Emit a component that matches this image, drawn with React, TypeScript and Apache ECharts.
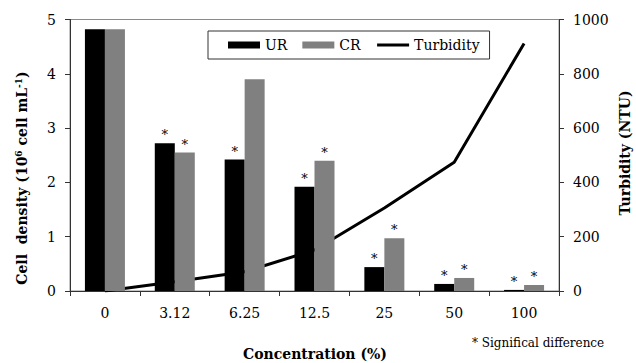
import React, { useEffect, useRef } from "react";
import * as echarts from "echarts";

const categories = ["0", "3.12", "6.25", "12.5", "25", "50", "100"];
const urValues = [4.82, 2.72, 2.42, 1.92, 0.44, 0.13, 0.02];
const crValues = [4.82, 2.55, 3.9, 2.4, 0.97, 0.24, 0.11];
const turbidity = [0, 34, 71, 151, 306, 474, 912];
const urSignificant = [false, true, true, true, true, true, true];
const crSignificant = [false, true, false, true, true, true, true];

const FONT = "DejaVu Serif";

export default function App() {
  const ref = useRef<HTMLDivElement>(null);
  useEffect(() => {
    if (!ref.current) return;
    const chart = echarts.init(ref.current, undefined, { renderer: "svg" });
    const starLabel = (flags: boolean[]) => ({
      show: true,
      position: "top",
      distance: 2,
      color: "#000",
      fontFamily: FONT,
      fontSize: 13,
      formatter: (p: any) => (flags[p.dataIndex] ? "*" : ""),
    });
    const tickLabel = { color: "#000", fontSize: 14, fontFamily: FONT, margin: 14 };
    chart.setOption({
      animation: false,
      backgroundColor: "#fff",
      textStyle: { fontFamily: FONT },
      grid: {
        left: 70,
        right: 77,
        top: 19.5,
        bottom: 72,
        show: true,
        borderColor: "#8a8a8a",
        borderWidth: 1,
        containLabel: false,
      },
      legend: {
        left: 208,
        top: 31,
        padding: [7, 10, 7, 20],
        borderColor: "#333",
        borderWidth: 1,
        itemWidth: 32,
        itemHeight: 7,
        itemGap: 15,
        textStyle: { fontFamily: FONT, fontSize: 14, color: "#000" },
        data: [
          { name: "UR", icon: "rect" },
          { name: "CR", icon: "rect" },
          {
            name: "Turbidity",
            itemStyle: { color: "rgba(0,0,0,0)", borderWidth: 0, opacity: 0 },
            lineStyle: { color: "#000", width: 3 },
          },
        ],
      },
      xAxis: {
        type: "category",
        data: categories,
        axisLine: { lineStyle: { color: "#333", width: 1 } },
        axisTick: { show: true, length: 5, lineStyle: { color: "#333" } },
        axisLabel: { ...tickLabel, margin: 15 },
      },
      yAxis: [
        {
          type: "value",
          min: 0,
          max: 5,
          interval: 1,
          splitLine: { show: false },
          axisLine: { show: true, lineStyle: { color: "#333" } },
          axisTick: { show: true, length: 5, lineStyle: { color: "#333" } },
          axisLabel: tickLabel,
        },
        {
          type: "value",
          position: "right",
          min: 0,
          max: 1000,
          interval: 200,
          splitLine: { show: false },
          axisLine: { show: true, lineStyle: { color: "#333" } },
          axisTick: { show: true, length: 5, lineStyle: { color: "#333" } },
          axisLabel: { ...tickLabel, formatter: (v: number) => String(v) },
        },
      ],
      series: [
        {
          name: "Turbidity",
          type: "line",
          yAxisIndex: 1,
          data: turbidity,
          symbol: "none",
          z: 1,
          lineStyle: { color: "#000", width: 3 },
          itemStyle: { color: "#000" },
        },
        {
          name: "UR",
          type: "bar",
          data: urValues,
          barWidth: 20,
          barGap: "0%",
          z: 3,
          itemStyle: { color: "#000" },
          label: starLabel(urSignificant),
        },
        {
          name: "CR",
          type: "bar",
          data: crValues,
          barWidth: 20,
          barGap: "0%",
          z: 3,
          itemStyle: { color: "#808080" },
          label: starLabel(crSignificant),
        },
      ],
      graphic: [
        {
          type: "text",
          x: 22,
          y: 178,
          rotation: Math.PI / 2,
          style: {
            text: "Cell  density (10{sup|6} cell mL{sup|-1})",
            fontFamily: FONT,
            fontWeight: "bold",
            fontSize: 14,
            fill: "#000",
            align: "center",
            verticalAlign: "middle",
            rich: {
              sup: {
                fontFamily: FONT,
                fontWeight: "bold",
                fontSize: 9,
                fill: "#000",
                verticalAlign: "top",
                padding: [0, 0, 6, 0],
              },
            },
          },
        },
        {
          type: "text",
          x: 625,
          y: 153,
          rotation: Math.PI / 2,
          style: {
            text: "Turbidity (NTU)",
            fontFamily: FONT,
            fontWeight: "bold",
            fontSize: 14,
            fill: "#000",
            align: "center",
            verticalAlign: "middle",
          },
        },
        {
          type: "text",
          x: 315,
          y: 354,
          style: {
            text: "Concentration (%)",
            fontFamily: FONT,
            fontWeight: "bold",
            fontSize: 14,
            fill: "#000",
            align: "center",
            verticalAlign: "middle",
          },
        },
        {
          type: "text",
          x: 472,
          y: 343,
          style: {
            text: "* Significal difference",
            fontFamily: FONT,
            fontSize: 12,
            fill: "#000",
            align: "left",
            verticalAlign: "middle",
          },
        },
      ],
    });
    return () => chart.dispose();
  }, []);
  return <div ref={ref} style={{ width: 636, height: 363, position: "absolute", left: 0, top: 0 }} />;
}
